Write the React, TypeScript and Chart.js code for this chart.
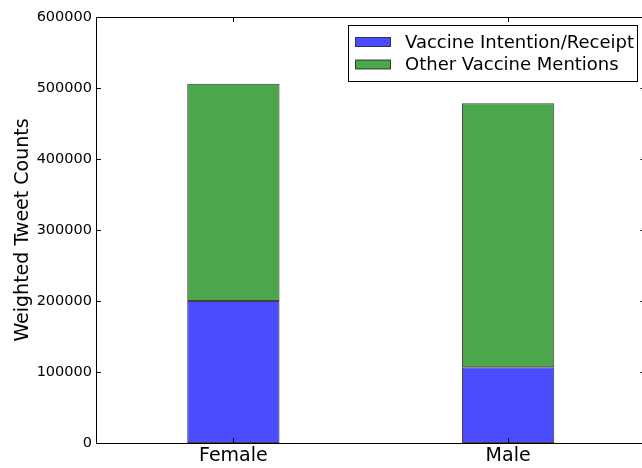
import React, { useEffect, useRef } from "react";
import { Chart, registerables } from "chart.js";

Chart.register(...registerables);

const categories = ["Female", "Male"];
const intentionValues = [200000, 106600];
const otherValues = [306000, 371900];
const seriesLabels = ["Vaccine Intention/Receipt", "Other Vaccine Mentions"];
const seriesColors = ["rgba(0,0,255,0.7)", "rgba(0,128,0,0.7)"];
const yTickMax = 600000;
const yTickStep = 100000;
const yTitle = "Weighted Tweet Counts";

const FONT = "'DejaVu Sans', sans-serif";

const framePlugin = {
  id: "mplFrame",
  afterDatasetsDraw(chart: any) {
    const { ctx, chartArea } = chart;
    const { left, right, top, bottom } = chartArea;
    const ys = chart.scales.y;
    const xs = chart.scales.x;
    ctx.save();
    ctx.strokeStyle = "#000";
    ctx.lineWidth = 1;
    ctx.beginPath();
    const tl = 5;
    for (let v = 0; v <= yTickMax; v += yTickStep) {
      const py = Math.round(ys.getPixelForValue(v)) + 0.5;
      ctx.moveTo(left, py);
      ctx.lineTo(left + tl, py);
      ctx.moveTo(right, py);
      ctx.lineTo(right - tl, py);
    }
    categories.forEach((_, i) => {
      const px = Math.round(xs.getPixelForValue(i)) + 0.5;
      ctx.moveTo(px, bottom);
      ctx.lineTo(px, bottom - tl);
      ctx.moveTo(px, top);
      ctx.lineTo(px, top + tl);
    });
    ctx.stroke();
    ctx.strokeRect(Math.round(left) + 0.5, Math.round(top) + 0.5, Math.round(right - left), Math.round(bottom - top));

    // legend
    const lx = 348.5;
    const ly = 25.5;
    const lw = 289;
    const lh = 56;
    ctx.fillStyle = "#fff";
    ctx.fillRect(lx, ly, lw, lh);
    ctx.strokeStyle = "#000";
    ctx.strokeRect(lx, ly, lw, lh);
    ctx.font = `18px ${FONT}`;
    ctx.textBaseline = "middle";
    const rows = [42, 64.5];
    seriesLabels.forEach((lab, i) => {
      ctx.fillStyle = seriesColors[i];
      ctx.fillRect(355.5, rows[i] - 4.5, 35, 9);
      ctx.strokeStyle = "rgba(0,0,0,0.7)";
      ctx.strokeRect(355.5, rows[i] - 4.5, 35, 9);
      ctx.fillStyle = "#000";
      ctx.fillText(lab, 405, rows[i] + 1);
    });
    ctx.restore();
  },
};

export default function App() {
  const ref = useRef<HTMLCanvasElement>(null);
  useEffect(() => {
    const chart = new Chart(ref.current as HTMLCanvasElement, {
      type: "bar",
      data: {
        labels: categories,
        datasets: [
          {
            label: seriesLabels[0],
            data: intentionValues,
            backgroundColor: seriesColors[0],
            borderColor: "rgba(0,0,0,0.75)",
            borderWidth: 1,
            borderSkipped: false,
            barPercentage: 0.336,
            categoryPercentage: 1,
          },
          {
            label: seriesLabels[1],
            data: otherValues,
            backgroundColor: seriesColors[1],
            borderColor: "rgba(0,0,0,0.75)",
            borderWidth: 1,
            borderSkipped: false,
            barPercentage: 0.336,
            categoryPercentage: 1,
          },
        ],
      },
      options: {
        animation: false,
        responsive: false,
        devicePixelRatio: 1,
        layout: { padding: { top: 17, right: 6.5, left: 0, bottom: 0 } },
        plugins: { legend: { display: false }, tooltip: { enabled: false } },
        scales: {
          x: {
            stacked: true,
            grid: { display: false, drawTicks: false },
            border: { display: false },
            ticks: { color: "#000", font: { family: FONT, size: 19 }, padding: 2 },
            afterFit: (s: any) => {
              s.height = 25;
            },
          },
          y: {
            stacked: true,
            min: 0,
            max: yTickMax,
            grid: { display: false, drawTicks: false },
            border: { display: false },
            ticks: {
              stepSize: yTickStep,
              color: "#000",
              font: { family: FONT, size: 14.5 },
              padding: 4,
              callback: (v: any) => String(v),
            },
            title: {
              display: true,
              text: yTitle,
              color: "#000",
              font: { family: FONT, size: 19 },
              padding: { top: 12, bottom: 0 },
            },
            afterFit: (s: any) => {
              s.width = 96;
            },
          },
        },
      },
      plugins: [framePlugin],
    });
    return () => chart.destroy();
  }, []);
  return (
    <div style={{ position: "fixed", left: 0, top: 0, width: 642, height: 468, overflow: "hidden", background: "#fff" }}>
      <canvas ref={ref} width={652} height={468} style={{ display: "block", width: 652, height: 468 }} />
    </div>
  );
}
